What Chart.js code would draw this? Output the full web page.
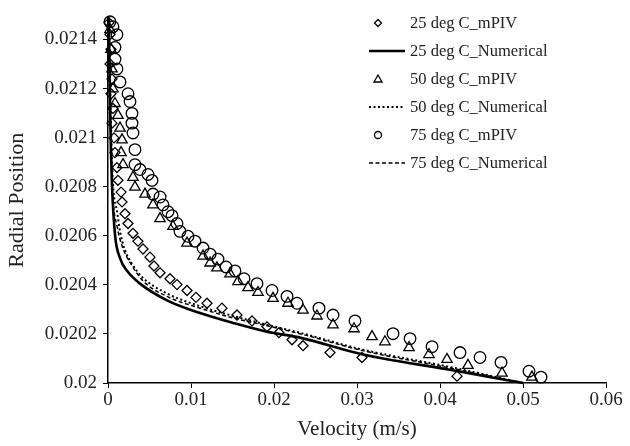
<!DOCTYPE html>
<html>
<head>
<meta charset="utf-8">
<script src="https://cdn.jsdelivr.net/npm/chart.js@4"></script>
<style>
  html, body { margin: 0; padding: 0; background: #fff; }
  #wrap { width: 630px; height: 446px; }
</style>
</head>
<body>
<div id="wrap"><canvas id="chart" width="630" height="446"></canvas></div>
<script>
// velocity (m/s) and radial position
const piv25V = [0.00012, 0.00024, 0.00036, 0.00024, 0.00048, 0.00036, 0.0006, 0.00048, 0.00072, 0.00084, 0.00108, 0.0012, 0.00157, 0.00169, 0.00205, 0.00241, 0.00301, 0.00361, 0.00422, 0.00506, 0.00554, 0.00627, 0.00747, 0.00831, 0.00952, 0.0106, 0.01193, 0.01373, 0.01554, 0.01735, 0.01916, 0.0206, 0.02217, 0.0235, 0.02675, 0.0306, 0.04205];
const piv25R = [0.021468, 0.02142, 0.02136, 0.0213, 0.021239, 0.021179, 0.021119, 0.021059, 0.020999, 0.020939, 0.020878, 0.020826, 0.020778, 0.020738, 0.02069, 0.02065, 0.02061, 0.020578, 0.020546, 0.020513, 0.020477, 0.020449, 0.020425, 0.020401, 0.020377, 0.020349, 0.020325, 0.020305, 0.020277, 0.020253, 0.020229, 0.020205, 0.020176, 0.020152, 0.020124, 0.020104, 0.020028];

const num25V = [0.0001, 0.00024, 0.00036, 0.00048, 0.00084, 0.00145, 0.00229, 0.00386, 0.00711, 0.01108, 0.01506, 0.01916, 0.02313, 0.03072, 0.04084, 0.05];
const num25R = [0.02149, 0.021139, 0.020939, 0.020806, 0.020606, 0.020509, 0.020457, 0.020405, 0.020337, 0.020285, 0.020245, 0.020209, 0.020185, 0.020116, 0.020056, 0.02];

const piv50V = [0.00024, 0.00036, 0.00048, 0.0006, 0.00084, 0.0012, 0.00145, 0.00169, 0.00157, 0.00181, 0.00301, 0.00325, 0.00446, 0.00542, 0.00627, 0.00783, 0.00952, 0.01145, 0.0123, 0.01313, 0.0147, 0.01566, 0.01687, 0.01807, 0.01988, 0.02169, 0.0235, 0.02518, 0.02711, 0.02964, 0.03181, 0.03337, 0.03627, 0.03867, 0.04084, 0.04337, 0.04747, 0.05108];
const piv50R = [0.02144, 0.02136, 0.02128, 0.021199, 0.021139, 0.021091, 0.021039, 0.020991, 0.020939, 0.02089, 0.020838, 0.020798, 0.02077, 0.020726, 0.02067, 0.020638, 0.02057, 0.020517, 0.020489, 0.020469, 0.020445, 0.020413, 0.020389, 0.020369, 0.020345, 0.020325, 0.020297, 0.020273, 0.020237, 0.020221, 0.020189, 0.020168, 0.020144, 0.020116, 0.020096, 0.020072, 0.02004, 0.020024];

const num50V = [0.0001, 0.00036, 0.0006, 0.0011, 0.00145, 0.002, 0.0029, 0.0042, 0.0071, 0.0111, 0.0151, 0.0192, 0.0231, 0.0307, 0.0408, 0.05];
const num50R = [0.02149, 0.021059, 0.020818, 0.020698, 0.020618, 0.020546, 0.020485, 0.020429, 0.020365, 0.020313, 0.020273, 0.020237, 0.020205, 0.020136, 0.020068, 0.02];

const piv75V = [0.00024, 0.0006, 0.00108, 0.00084, 0.00084, 0.00108, 0.00145, 0.00241, 0.00265, 0.00289, 0.00289, 0.00301, 0.00325, 0.00325, 0.00386, 0.00482, 0.0053, 0.00542, 0.00627, 0.00663, 0.00723, 0.00771, 0.00831, 0.00867, 0.00964, 0.01048, 0.01145, 0.0123, 0.01325, 0.01422, 0.0153, 0.01639, 0.01795, 0.01976, 0.02157, 0.02277, 0.02542, 0.02711, 0.02976, 0.03434, 0.03639, 0.03904, 0.04241, 0.04482, 0.04735, 0.05072, 0.05217];
const piv75R = [0.021472, 0.021452, 0.02142, 0.021368, 0.02132, 0.02128, 0.021227, 0.021179, 0.021147, 0.021099, 0.021059, 0.021019, 0.020951, 0.02089, 0.02087, 0.02085, 0.020826, 0.02077, 0.020758, 0.020726, 0.020698, 0.020682, 0.02065, 0.020618, 0.020598, 0.020578, 0.02055, 0.020525, 0.020505, 0.020473, 0.020457, 0.020425, 0.020405, 0.020377, 0.020353, 0.020325, 0.020305, 0.020277, 0.020253, 0.020201, 0.020181, 0.020148, 0.020124, 0.020104, 0.020084, 0.020048, 0.020024];

const num75V = [0.0001, 0.00036, 0.0006, 0.0011, 0.0017, 0.0027, 0.0042, 0.0071, 0.0111, 0.0151, 0.0192, 0.0231, 0.0307, 0.0408, 0.05];
const num75R = [0.02149, 0.020979, 0.020758, 0.020638, 0.020558, 0.020489, 0.020417, 0.020353, 0.020305, 0.020265, 0.020233, 0.020201, 0.020132, 0.020064, 0.02];

const seriesNames = ['25 deg C_mPIV', '25 deg C_Numerical', '50 deg C_mPIV', '50 deg C_Numerical', '75 deg C_mPIV', '75 deg C_Numerical'];

const xTicks = [0, 0.01, 0.02, 0.03, 0.04, 0.05, 0.06];
const yTicks = [0.02, 0.0202, 0.0204, 0.0206, 0.0208, 0.021, 0.0212, 0.0214];

const FONT = "'Liberation Serif', 'Times New Roman', serif";

function pts(xs, ys) {
  return xs.map((x, i) => ({ x: x, y: ys[i] }));
}

function marker(name, xs, ys, style, r) {
  return {
    label: name, data: pts(xs, ys), showLine: false,
    pointStyle: style, pointRadius: r, pointHoverRadius: r,
    borderColor: '#000', backgroundColor: 'rgba(0,0,0,0)', borderWidth: 1.3
  };
}

function curve(name, xs, ys, width, dash) {
  return {
    label: name, data: pts(xs, ys), showLine: true, pointRadius: 0,
    borderColor: '#000', borderWidth: width, borderDash: dash,
    cubicInterpolationMode: 'monotone', fill: false
  };
}

const datasets = [
  marker(seriesNames[0], piv25V, piv25R, 'rectRot', 5),
  curve(seriesNames[1], num25V, num25R, 2.6, []),
  marker(seriesNames[2], piv50V, piv50R, 'triangle', 6),
  curve(seriesNames[3], num50V, num50R, 2, [2, 2.5]),
  marker(seriesNames[4], piv75V, piv75R, 'circle', 5.8),
  curve(seriesNames[5], num75V, num75R, 1.5, [4, 2.5])
];

// legend sits inside the plot, top right
const legendInside = {
  id: 'legendInside',
  afterDraw(chart) {
    const ctx = chart.ctx;
    ctx.save();
    ctx.font = '16.5px ' + FONT;
    ctx.fillStyle = '#222';
    ctx.textBaseline = 'middle';
    chart.data.datasets.forEach((ds, i) => {
      const y = 23 + i * 28;
      ctx.strokeStyle = '#000';
      if (ds.showLine) {
        ctx.lineWidth = ds.borderWidth;
        ctx.setLineDash(ds.borderDash);
        ctx.beginPath();
        ctx.moveTo(369, y);
        ctx.lineTo(405, y);
        ctx.stroke();
        ctx.setLineDash([]);
      } else {
        ctx.lineWidth = 1.3;
        ctx.beginPath();
        if (ds.pointStyle === 'rectRot') {
          ctx.moveTo(378, y - 3.5); ctx.lineTo(381.5, y); ctx.lineTo(378, y + 3.5); ctx.lineTo(374.5, y); ctx.closePath();
        } else if (ds.pointStyle === 'triangle') {
          ctx.moveTo(378, y - 4); ctx.lineTo(382, y + 3); ctx.lineTo(374, y + 3); ctx.closePath();
        } else {
          ctx.arc(378, y, 3.5, 0, Math.PI * 2);
        }
        ctx.stroke();
      }
      ctx.fillText(ds.label, 410, y + 1);
    });
    ctx.restore();
  }
};

new Chart(document.getElementById('chart'), {
  type: 'scatter',
  data: { datasets: datasets },
  options: {
    responsive: false,
    animation: false,
    clip: false,
    layout: { padding: { top: 12, right: 24, left: 0, bottom: 0 } },
    plugins: {
      legend: { display: false },
      tooltip: { enabled: false }
    },
    scales: {
      x: {
        type: 'linear', min: 0, max: 0.06,
        afterFit(s) { s.height = 63; },
        afterBuildTicks(s) { s.ticks = xTicks.map(v => ({ value: v })); },
        grid: { drawOnChartArea: false, drawTicks: true, tickLength: 5, color: '#000' },
        border: { color: '#000', width: 1.5 },
        ticks: {
          color: '#222', font: { family: FONT, size: 19 }, padding: 1, maxRotation: 0,
          callback: v => String(+v.toFixed(2))
        },
        title: { display: true, text: 'Velocity (m/s)', color: '#222', font: { family: FONT, size: 21 }, padding: { top: 2 } }
      },
      y: {
        type: 'linear', min: 0.02, max: 0.02149,
        afterFit(s) { s.width = 108; },
        afterBuildTicks(s) { s.ticks = yTicks.map(v => ({ value: v })); },
        grid: { drawOnChartArea: false, drawTicks: true, tickLength: 5, color: '#000' },
        border: { color: '#000', width: 1.5 },
        ticks: {
          color: '#222', font: { family: FONT, size: 19 }, padding: 6,
          callback: v => String(+v.toFixed(4))
        },
        title: { display: true, text: 'Radial Position', color: '#222', font: { family: FONT, size: 22 }, padding: { bottom: 4 } }
      }
    }
  },
  plugins: [legendInside]
});
</script>
</body>
</html>
